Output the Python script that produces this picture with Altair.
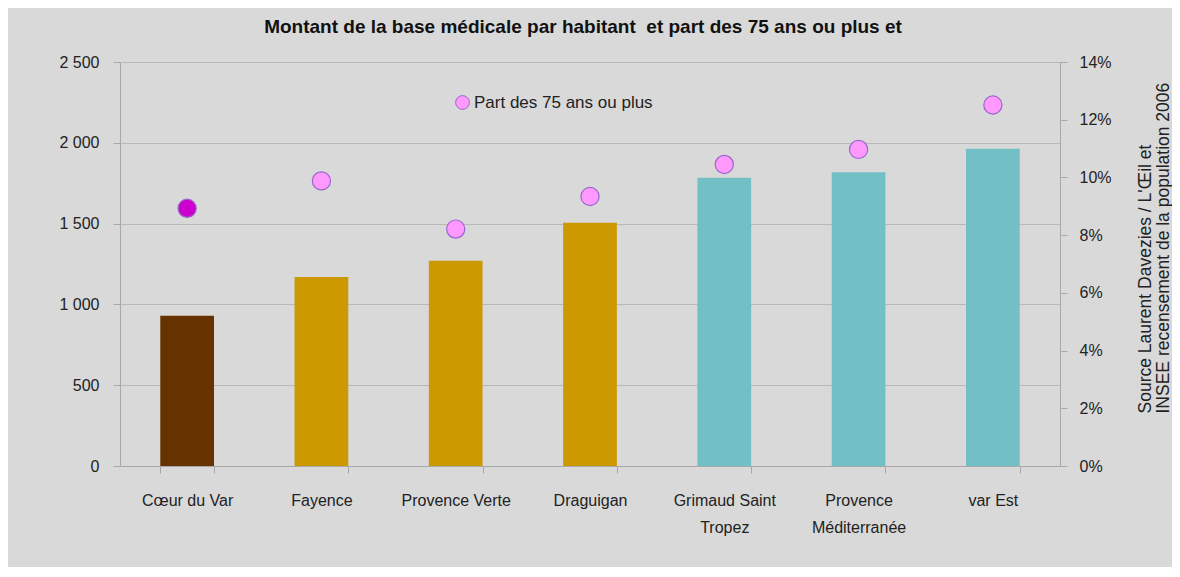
import altair as alt
import pandas as pd

categories = ["Cœur du Var", "Fayence", "Provence Verte", "Draguigan",
              "Grimaud Saint Tropez", "Provence Méditerranée", "var Est"]
base_medicale = [930, 1169, 1270, 1506, 1784, 1817, 1963]
part_75 = [8.93, 9.88, 8.21, 9.34, 10.45, 10.97, 12.51]
groupes = ["A", "B", "B", "B", "C", "C", "C"]
series_point = ["Cœur du Var", "Part des 75 ans ou plus", "Part des 75 ans ou plus",
                "Part des 75 ans ou plus", "Part des 75 ans ou plus",
                "Part des 75 ans ou plus", "Part des 75 ans ou plus"]
left_ticks = [0, 500, 1000, 1500, 2000, 2500]
right_ticks = [0, 2, 4, 6, 8, 10, 12, 14]

df = pd.DataFrame({
    "territoire": categories,
    "base": base_medicale,
    "part": part_75,
    "groupe": groupes,
    "serie": series_point,
})

FONT = "Liberation Sans"
AX = "#a8a8a8"

x_enc = alt.X(
    "territoire:N", sort=categories,
    scale=alt.Scale(paddingInner=0.6, paddingOuter=0.3),
    axis=alt.Axis(
        title=None, labelAngle=0, tickBand="extent", tickSize=7,
        labelPadding=19, labelFontSize=16, labelFont=FONT, labelColor="#222222",
        domainColor=AX, tickColor=AX, grid=False, labelLineHeight=27,
        labelExpr="datum.value == 'Grimaud Saint Tropez' ? ['Grimaud Saint', 'Tropez'] : datum.value == 'Provence Méditerranée' ? ['Provence', 'Méditerranée'] : datum.value",
    ),
)

bars = alt.Chart(df).mark_bar().encode(
    x=x_enc,
    y=alt.Y("base:Q", scale=alt.Scale(domain=[0, 2500], nice=False),
            axis=alt.Axis(title=None, values=left_ticks, orient="left",
                          labelExpr="replace(format(datum.value, ','), ',', ' ')",
                          labelFontSize=16, labelFont=FONT, labelColor="#222222",
                          tickSize=7, labelPadding=14, domainColor=AX, tickColor=AX,
                          grid=True, gridColor="#b8b8b8", gridWidth=1.2)),
    color=alt.Color("groupe:N", legend=None,
                    scale=alt.Scale(domain=["A", "B", "C"],
                                    range=["#663300", "#cc9900", "#72bfc5"])),
)

points = alt.Chart(df).mark_point(filled=True, size=330, opacity=1,
                                  strokeWidth=1.2, stroke="#9966cc").encode(
    x=alt.X("territoire:N", sort=categories),
    y=alt.Y("part:Q", scale=alt.Scale(domain=[0, 14], nice=False),
            axis=alt.Axis(title=["Source Laurent Davezies / L'Œil et",
                                 "INSEE recensement de la population 2006"],
                          orient="right", values=right_ticks,
                          labelExpr="datum.value + '%'",
                          labelFontSize=16, labelFont=FONT, labelColor="#222222",
                          tickSize=7, labelPadding=12, domainColor=AX, tickColor=AX,
                          grid=False, titleAngle=270, titleFontSize=17.5,
                          titleFont=FONT, titleFontWeight="normal", titleColor="#222222",
                          titleLineHeight=18, titleX=76, titleY=351,
                          titleAlign="left", titleBaseline="top")),
    fill=alt.Fill("serie:N",
                  scale=alt.Scale(domain=["Part des 75 ans ou plus", "Cœur du Var"],
                                  range=["#ff99ff", "#cc00cc"]),
                  legend=alt.Legend(title=None, values=["Part des 75 ans ou plus"],
                                    orient="none", legendX=334, legendY=32,
                                    symbolType="circle", symbolSize=190,
                                    symbolStrokeColor="#9966cc", symbolStrokeWidth=1,
                                    labelFontSize=17, labelFont=FONT, labelLimit=400,
                                    labelColor="#222222", labelOffset=3)),
)

chart = alt.layer(bars, points).resolve_scale(
    y="independent", color="independent", fill="independent"
).properties(
    width=940, height=404,
    autosize=alt.AutoSizeParams(type="none"),
    padding={"left": 112, "top": 54, "right": 112, "bottom": 101},
    background="#d9d9d9",
    title=alt.Title("Montant de la base médicale par habitant \u00a0et part des 75 ans ou plus et",
                    fontSize=19, fontWeight="bold", font=FONT, color="#111111",
                    anchor="middle", offset=17, dx=-7),
).configure_view(stroke=None)

chart.save("out.html", embed_options={"renderer": "svg", "actions": False})
